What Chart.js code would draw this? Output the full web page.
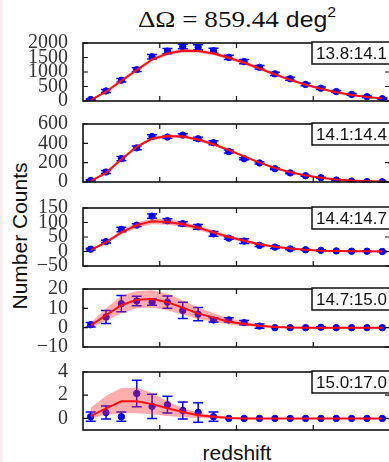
<!DOCTYPE html>
<html lang="en">
  <head>
    <meta charset="utf-8" />
    <title>Number counts by redshift</title>
    <style>
      * {
        margin: 0;
        padding: 0;
      }
      body {
        width: 389px;
        height: 462px;
        overflow: hidden;
        position: relative;
        background: white;
        font-family: "Liberation Sans", sans-serif;
      }
      .edge {
        position: absolute;
        left: 0;
        top: 0;
        width: 3px;
        height: 462px;
        background: #f7efef;
      }
      .panel {
        position: absolute;
        left: 0;
        width: 395px;
      }
      .title {
        position: absolute;
        left: 0;
        top: 7px;
        width: 474px;
        text-align: center;
        line-height: 1;
        font-size: 22px;
        color: #111;
        transform: scaleX(1.13);
        transform-origin: 237px 0;
      }
      .title .m {
        font-family: "Liberation Serif", serif;
        font-size: 24px;
      }
      .title sup {
        font-size: 14px;
        position: relative;
        top: -2px;
      }
      .ylab {
        position: absolute;
        left: -80px;
        top: 224px;
        width: 200px;
        height: 24px;
        line-height: 24px;
        text-align: center;
        font-size: 21px;
        transform: rotate(-90deg);
        color: #111;
      }
      .xlab {
        position: absolute;
        left: 0;
        top: 442px;
        width: 474px;
        text-align: center;
        line-height: 1;
        font-size: 21px;
        color: #111;
      }
    </style>
  </head>
  <body>
    <div class="edge"></div>
    <div class="title"><span class="m">ΔΩ = 859.44</span> deg<sup>2</sup></div>
    <div class="ylab">Number Counts</div>
    <div class="xlab">redshift</div>
    <div id="panels"></div>

    <script src="https://cdn.jsdelivr.net/npm/chart.js"></script>

    <script>
      // redshift bin centres (same for every mass bin)
      const redshift = [0.1, 0.3, 0.5, 0.7, 0.9, 1.1, 1.3, 1.5, 1.7, 1.9,
                        2.1, 2.3, 2.5, 2.7, 2.9, 3.1, 3.3, 3.5, 3.7, 3.9];
      const bins = ["13.8:14.1", "14.1:14.4", "14.4:14.7", "14.7:15.0", "15.0:17.0"];

      // observed counts, one row per mass bin
      const counts = [
        [50, 345, 717, 1082, 1524, 1720, 1878, 1849, 1731, 1504, 1357, 1160, 935, 767, 570, 443, 325, 226, 148, 80],
        [15, 103, 241, 353, 470, 465, 485, 447, 406, 315, 241, 197, 138, 94, 65, 44, 20, 9, 4, 2],
        [8, 34, 76, 91, 122, 106, 96, 85, 61, 46, 36, 21, 15, 9, 6, 4, 2, 1, 1, 0],
        [1.5, 5.5, 12.4, 13.8, 13.2, 13.2, 8.9, 7, 4, 4, 2.6, 0.8, 0, 0, 0, 0.2, 0, 0, 0, 0],
        [0.15, 0.5, 0.15, 2.15, 1.04, 1.18, 0.68, 0.51, 0.15, 0, 0, 0, 0, 0, 0, 0, 0, 0, 0, 0],
      ];
      const countErr = [
        [25, 55, 60, 65, 80, 90, 80, 90, 85, 70, 70, 60, 55, 50, 45, 40, 35, 30, 25, 20],
        [8, 15, 22, 20, 20, 12, 15, 15, 20, 15, 10, 10, 8, 8, 6, 6, 5, 4, 3, 2],
        [3, 5, 8, 5, 7, 7, 7, 8, 8, 4, 8, 4, 5, 3, 2, 2, 1, 1, 1, 1],
        [1.2, 3.4, 4.2, 2.5, 1.6, 3.2, 4.2, 3.4, 1.1, 1.1, 1.1, 1.1, 0, 0, 0, 0.3, 0, 0, 0, 0],
        [0.4, 0.56, 0.4, 1.14, 1.04, 0.72, 0.74, 0.84, 0.4, 0, 0, 0, 0, 0, 0, 0, 0, 0, 0, 0],
      ];

      // model prediction and its spread
      const model = [
        [30, 320, 700, 1070, 1430, 1640, 1730, 1720, 1640, 1490, 1320, 1120, 920, 730, 560, 420, 300, 210, 140, 90],
        [10, 95, 235, 365, 450, 475, 470, 440, 390, 330, 265, 200, 145, 100, 68, 44, 27, 15, 8, 4],
        [5, 32, 66, 91, 104, 102, 94, 82, 66, 50, 37, 25, 16, 10, 6, 3, 2, 1, 0.5, 0.3],
        [1.1, 6.5, 11.6, 14.5, 14.8, 13.2, 10.3, 7.4, 5.2, 3.1, 1.9, 1, 0.3, 0.1, 0, 0, 0, 0, 0, 0],
        [0.2, 0.87, 1.47, 1.47, 1.23, 0.87, 0.56, 0.27, 0.15, 0.03, 0, 0, 0, 0, 0, 0, 0, 0, 0, 0],
      ];
      const modelHi = [
        [45, 370, 760, 1130, 1490, 1700, 1790, 1780, 1700, 1550, 1380, 1170, 970, 775, 600, 455, 330, 235, 160, 105],
        [14, 106, 250, 381, 466, 491, 486, 455, 404, 343, 276, 209, 152, 105, 72, 47, 29, 17, 9, 5],
        [7, 37, 73, 100, 114, 112, 103, 90, 73, 56, 42, 29, 19, 12, 7.5, 4, 2.6, 1.5, 0.8, 0.5],
        [2.5, 10, 16.5, 19, 19.3, 17.5, 14, 10.5, 7.5, 4.8, 3, 1.7, 0.8, 0.3, 0.1, 0, 0, 0, 0, 0],
        [0.92, 1.95, 2.62, 2.67, 2.19, 1.47, 0.87, 0.5, 0.27, 0.15, 0.08, 0.03, 0, 0, 0, 0, 0, 0, 0, 0],
      ];
      const modelLo = [
        [15, 270, 640, 1010, 1370, 1580, 1670, 1660, 1580, 1430, 1260, 1070, 870, 685, 520, 385, 270, 185, 120, 75],
        [6, 84, 220, 349, 434, 459, 454, 425, 376, 317, 254, 191, 138, 95, 64, 41, 25, 13, 7, 3],
        [3, 27, 59, 82, 94, 92, 85, 74, 59, 44, 32, 21, 13, 8, 4.5, 2, 1.4, 0.5, 0.2, 0.1],
        [0, 3.5, 7.5, 10, 10.3, 9, 6.7, 4.5, 3, 1.6, 0.9, 0.3, 0, 0, 0, 0, 0, 0, 0, 0],
        [0, 0.3, 0.45, 0.45, 0.35, 0.2, 0.1, 0.03, 0, 0, 0, 0, 0, 0, 0, 0, 0, 0, 0, 0],
      ];

      // y axis of each panel
      const yMin = [0, 0, -50, -10, -1];
      const yMax = [2000, 600, 150, 20, 4];
      const yTicks = [
        [0, 500, 1000, 1500, 2000],
        [0, 200, 400, 600],
        [-50, 0, 50, 100, 150],
        [-10, 0, 10, 20],
        [0, 2, 4],
      ];

      // layout
      const panelTop = [38, 119, 203, 284, 367];
      const panelHeight = 68;
      const pad = 14;

      const pts = (arr) => redshift.map((z, k) => ({ x: z, y: arr[k] }));

      function makeDecor(i) {
        return {
          id: "decor" + i,
          beforeDatasetDraw(chart, args) {
            if (args.index !== 3) return;
            const { ctx, scales: { x, y } } = chart;
            ctx.save();
            ctx.strokeStyle = "#0000ff";
            ctx.lineWidth = 1.5;
            counts[i].forEach((c, k) => {
              const e = countErr[i][k];
              if (!e) return;
              const px = x.getPixelForValue(redshift[k]);
              const top = y.getPixelForValue(c + e);
              const bot = y.getPixelForValue(c - e);
              ctx.beginPath();
              ctx.moveTo(px, top);
              ctx.lineTo(px, bot);
              ctx.moveTo(px - 5, top);
              ctx.lineTo(px + 5, top);
              ctx.moveTo(px - 5, bot);
              ctx.lineTo(px + 5, bot);
              ctx.stroke();
            });
            ctx.restore();
          },
          afterDraw(chart) {
            const { ctx, chartArea: a, scales: { x, y } } = chart;
            ctx.save();
            ctx.strokeStyle = "#111";
            ctx.lineWidth = 1.6;
            ctx.strokeRect(a.left, a.top, a.right - a.left, a.bottom - a.top);

            // inward ticks
            ctx.lineWidth = 1.2;
            ctx.beginPath();
            [1, 2, 3].forEach((z) => {
              const px = x.getPixelForValue(z);
              ctx.moveTo(px, a.bottom);
              ctx.lineTo(px, a.bottom - 5);
              ctx.moveTo(px, a.top);
              ctx.lineTo(px, a.top + 5);
            });
            yTicks[i].forEach((v) => {
              const py = y.getPixelForValue(v);
              ctx.moveTo(a.left, py);
              ctx.lineTo(a.left + 5, py);
              ctx.moveTo(a.right, py);
              ctx.lineTo(a.right - 5, py);
            });
            ctx.stroke();

            // mass bin label
            const bx = 312;
            const by = a.top - 1;
            ctx.fillStyle = "white";
            ctx.fillRect(bx, by, 90, 22);
            ctx.lineWidth = 1.5;
            ctx.strokeRect(bx, by, 90, 22);
            ctx.fillStyle = "#111";
            ctx.font = '17px "Liberation Sans", sans-serif';
            ctx.textAlign = "left";
            ctx.textBaseline = "alphabetic";
            ctx.fillText(bins[i], bx + 4, by + 16.5);
            ctx.restore();
          },
        };
      }

      const holder = document.getElementById("panels");

      for (let i = 0; i < bins.length; i++) {
        const box = document.createElement("div");
        box.className = "panel";
        box.style.top = panelTop[i] - pad + "px";
        box.style.height = panelHeight + 2 * pad + "px";
        const canvas = document.createElement("canvas");
        box.appendChild(canvas);
        holder.appendChild(box);

        new Chart(canvas, {
          type: "line",
          data: {
            datasets: [
              {
                data: pts(modelLo[i]),
                borderWidth: 0,
                pointRadius: 0,
                fill: false,
              },
              {
                data: pts(modelHi[i]),
                borderWidth: 0,
                pointRadius: 0,
                backgroundColor: "rgba(255, 40, 40, 0.38)",
                fill: "-1",
              },
              {
                data: pts(model[i]),
                borderColor: "#ff0000",
                borderWidth: 2,
                pointRadius: 0,
                fill: false,
              },
              {
                data: pts(counts[i]),
                showLine: false,
                pointRadius: 3.2,
                pointBackgroundColor: "#0000ff",
                pointBorderColor: "#0000ff",
                fill: false,
              },
            ],
          },
          options: {
            responsive: true,
            maintainAspectRatio: false,
            animation: false,
            layout: { padding: { top: pad, bottom: pad, left: 0, right: 4 } },
            plugins: {
              legend: { display: false },
              tooltip: { enabled: false },
            },
            scales: {
              x: { type: "linear", min: 0, max: 4, display: false },
              y: {
                min: yMin[i],
                max: yMax[i],
                grid: { display: false },
                border: { display: false },
                afterBuildTicks: (scale) => {
                  scale.ticks = yTicks[i].map((v) => ({ value: v }));
                },
                afterFit: (scale) => {
                  scale.width = 83;
                },
                ticks: {
                  autoSkip: false,
                  padding: 7,
                  color: "#333",
                  font: { family: "Liberation Serif", size: 20 },
                  callback: (v) => (v < 0 ? "\u2212" + Math.abs(v) : v),
                },
              },
            },
          },
          plugins: [makeDecor(i)],
        });
      }
    </script>
  </body>
</html>
